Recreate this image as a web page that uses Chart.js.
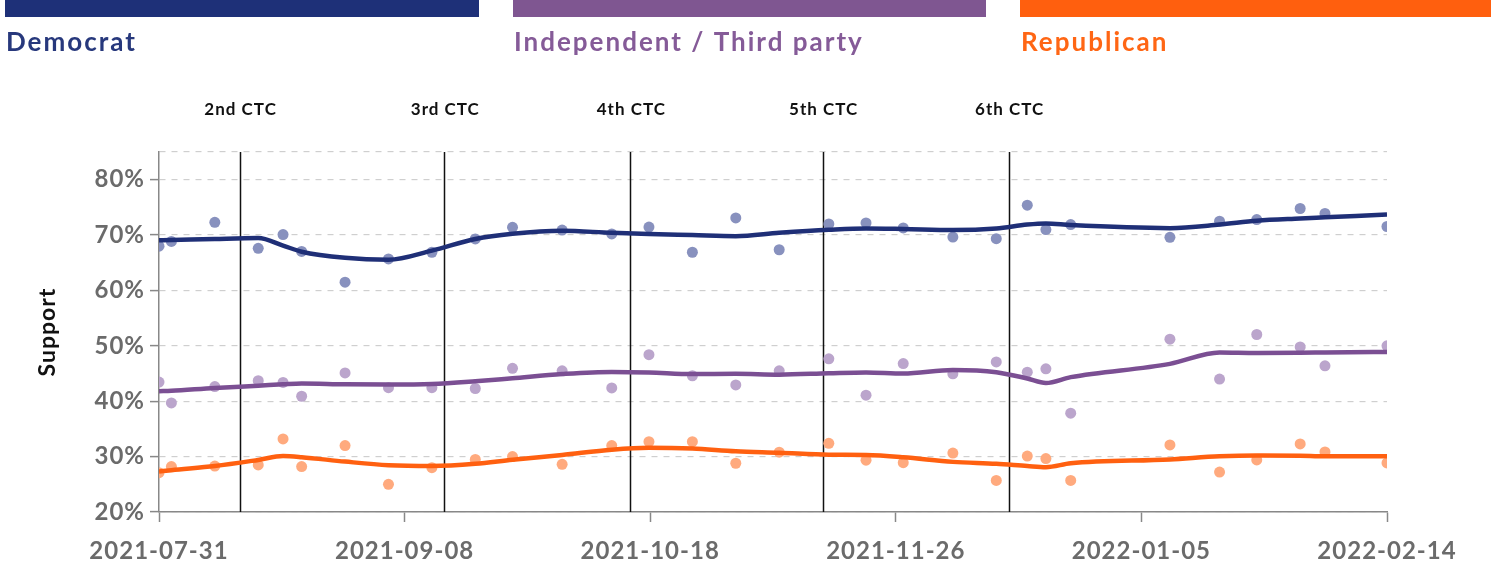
<!DOCTYPE html>
<html>
<head>
<meta charset="utf-8">
<script src="https://cdn.jsdelivr.net/npm/chart.js@4.4.1/dist/chart.umd.min.js"></script>
<style>
html, body { margin: 0; padding: 0; background: #fff; }
#wrap { position: relative; width: 1491px; height: 566px; }
</style>
</head>
<body>
<div id="wrap"><canvas id="chart"></canvas></div>
<script>
// survey dates
const surveyDates = [
    '2021-07-31', '2021-08-02', '2021-08-09', '2021-08-16', '2021-08-20', '2021-08-23',
    '2021-08-30', '2021-09-06', '2021-09-13', '2021-09-20', '2021-09-26', '2021-10-04',
    '2021-10-12', '2021-10-18', '2021-10-25', '2021-11-01', '2021-11-08', '2021-11-16',
    '2021-11-22', '2021-11-28', '2021-12-06', '2021-12-13', '2021-12-18', '2021-12-21',
    '2021-12-25', '2022-01-10', '2022-01-18', '2022-01-24', '2022-01-31', '2022-02-04',
    '2022-02-14'
];

// raw poll points
const demPoints = [68.0, 68.85, 72.3, 67.6, 70.1, 67.05, 61.5, 65.7, 66.9, 69.3, 71.4, 70.9,
    70.2, 71.45, 66.9, 73.1, 67.35, 72.0, 72.2, 71.3, 69.65, 69.35, 75.4, 71.0,
    71.9, 69.6, 72.5, 72.8, 74.8, 73.9, 71.55];
const indPoints = [43.45, 39.7, 42.65, 43.7, 43.4, 40.9, 45.1, 42.45, 42.45, 42.3, 45.95, 45.5,
    42.4, 48.4, 44.6, 42.95, 45.5, 47.65, 41.1, 46.8, 44.95, 47.1, 45.25, 45.85,
    37.85, 51.2, 44.0, 52.05, 49.8, 46.4, 50.0];
const repPoints = [27.1, 28.2, 28.3, 28.5, 33.2, 28.2, 32.0, 25.0, 28.0, 29.5, 30.0, 28.6,
    32.0, 32.7, 32.7, 28.8, 30.8, 32.4, 29.35, 28.9, 30.65, 25.7, 30.1, 29.65,
    25.7, 32.1, 27.2, 29.4, 32.3, 30.85, 28.85];

// smoothed trends
const demTrend = [69.05, 69.1, 69.3, 69.45, 68.1, 67.0, 65.9, 65.55, 67.2, 69.3, 70.25, 70.8,
    70.4, 70.2, 70.0, 69.8, 70.4, 70.95, 71.2, 71.1, 70.9, 71.2, 71.9, 72.1,
    71.8, 71.25, 71.9, 72.6, 73.0, 73.2, 73.7];
const indTrend = [41.8, 41.9, 42.4, 42.8, 43.05, 43.2, 43.05, 43.0, 43.1, 43.6, 44.15, 44.9,
    45.3, 45.2, 44.9, 44.95, 44.8, 45.05, 45.2, 45.0, 45.65, 45.25, 44.1, 43.3,
    44.35, 46.75, 48.8, 48.7, 48.75, 48.8, 48.9];
const repTrend = [27.3, 27.55, 28.3, 29.4, 30.1, 29.9, 29.1, 28.45, 28.3, 28.7, 29.45, 30.3,
    31.25, 31.6, 31.45, 30.95, 30.7, 30.35, 30.3, 29.9, 29.05, 28.7, 28.3, 28.1,
    28.8, 29.5, 30.05, 30.2, 30.15, 30.05, 30.05];

// CTC payment dates
const ctcDates = ['2021-08-13', '2021-09-15', '2021-10-15', '2021-11-15', '2021-12-15'];
const ctcLabels = ['2nd CTC', '3rd CTC', '4th CTC', '5th CTC', '6th CTC'];

// axis ticks
const xTickLabels = ['2021-07-31', '2021-09-08', '2021-10-18', '2021-11-26', '2022-01-05', '2022-02-14'];
const yTickValues = [20, 30, 40, 50, 60, 70, 80];
const yMin = 20, yMax = 85;

const legendLabels = ['Democrat', 'Independent / Third party', 'Republican'];

const FONT = 'Lato, "Open Sans", sans-serif';
const startMs = Date.UTC(2021, 6, 31);
const dayOf = s => (Date.parse(s) - startMs) / 86400000;
const xMin = dayOf(xTickLabels[0]);
const xMax = dayOf(xTickLabels[xTickLabels.length - 1]);

const toXY = vals => vals.map((v, i) => ({ x: dayOf(surveyDates[i]), y: v }));

function pointSet(vals, color) {
    return {
        data: toXY(vals),
        showLine: false,
        pointRadius: 5.5,
        pointBackgroundColor: color,
        pointBorderWidth: 0,
        order: 2
    };
}

function trendSet(vals, color) {
    return {
        data: toXY(vals),
        borderColor: color,
        borderWidth: 4.5,
        pointRadius: 0,
        cubicInterpolationMode: 'monotone',
        borderCapStyle: 'butt',
        order: 1
    };
}

// CTC markers + legend
const overlay = {
    id: 'overlay',
    beforeDraw(chart) {
        chart.ctx.letterSpacing = '1px';
    },
    beforeDatasetsDraw(chart) {
        const { ctx, chartArea, scales } = chart;
        ctx.save();
        ctx.strokeStyle = '#111';
        ctx.lineWidth = 1.5;
        ctcDates.forEach(d => {
            const x = Math.round(scales.x.getPixelForValue(dayOf(d))) + 0.5;
            ctx.beginPath();
            ctx.moveTo(x, chartArea.top);
            ctx.lineTo(x, chartArea.bottom);
            ctx.stroke();
        });
        ctx.restore();
    },
    afterDraw(chart) {
        const { ctx, scales } = chart;
        ctx.save();
        ctx.fillStyle = '#111';
        ctx.font = 'bold 17px ' + FONT;
        ctx.letterSpacing = '1px';
        ctx.textAlign = 'center';
        ctx.textBaseline = 'middle';
        ctcDates.forEach((d, i) => {
            ctx.fillText(ctcLabels[i], scales.x.getPixelForValue(dayOf(d)) + 1, 110);
        });

        const bars = [
            { x0: 5, x1: 479, bar: '#1e3078', text: '#27387c' },
            { x0: 513, x1: 986, bar: '#7f5691', text: '#855b98' },
            { x0: 1020, x1: 1491, bar: '#ff5f0e', text: '#ff6614' }
        ];
        ctx.textAlign = 'left';
        ctx.textBaseline = 'alphabetic';
        ctx.font = 'bold 26px ' + FONT;
        ctx.letterSpacing = '2px';
        bars.forEach((b, i) => {
            ctx.fillStyle = b.bar;
            ctx.fillRect(b.x0, 0, b.x1 - b.x0, 17);
            ctx.fillStyle = b.text;
            ctx.fillText(legendLabels[i], b.x0 + 1, 51);
        });
        ctx.restore();
    }
};

new Chart(document.getElementById('chart'), {
    type: 'line',
    data: {
        datasets: [
            trendSet(demTrend, '#1f2f77'),
            trendSet(indTrend, '#7b4f93'),
            trendSet(repTrend, '#ff6010'),
            pointSet(demPoints, '#8891be'),
            pointSet(indPoints, '#bba5cc'),
            pointSet(repPoints, '#ffaa7e')
        ]
    },
    options: {
        responsive: true,
        maintainAspectRatio: false,
        animation: false,
        layout: { padding: { top: 152, right: 104, left: 0, bottom: 0 } },
        plugins: { legend: { display: false }, tooltip: { enabled: false } },
        scales: {
            x: {
                type: 'linear',
                min: xMin,
                max: xMax,
                afterBuildTicks: axis => {
                    const step = (xMax - xMin) / (xTickLabels.length - 1);
                    axis.ticks = xTickLabels.map((_, i) => ({ value: xMin + i * step }));
                },
                afterFit: axis => { axis.height = 54; },
                grid: { drawOnChartArea: false, tickLength: 10, tickColor: '#888', tickWidth: 1.5 },
                border: { color: '#888', width: 1.5 },
                ticks: {
                    padding: 15,
                    maxRotation: 0,
                    autoSkip: false,
                    color: '#6b6b6b',
                    font: { family: FONT, size: 24, weight: 'bold' },
                    callback: (v, i) => xTickLabels[i]
                }
            },
            y: {
                min: yMin,
                max: yMax,
                afterBuildTicks: axis => {
                    axis.ticks = yTickValues.concat([yMax]).map(v => ({ value: v }));
                },
                afterFit: axis => { axis.width = 159; },
                grid: {
                    color: '#cfcfcf',
                    lineWidth: 1.2,
                    tickLength: 9,
                    tickWidth: 1.5,
                    tickColor: c => (c.tick && c.tick.value === yMax) ? 'rgba(0,0,0,0)' : '#888'
                },
                border: { color: '#888', width: 1.5, dash: [6, 6] },
                ticks: {
                    padding: 5,
                    color: '#6b6b6b',
                    font: { family: FONT, size: 24, weight: 'bold' },
                    callback: v => v === yMax ? '' : v + '%'
                },
                title: {
                    display: true,
                    text: 'Support',
                    color: '#111',
                    font: { family: FONT, size: 23, weight: 'bold' },
                    padding: { top: 34, bottom: 0 }
                }
            }
        }
    },
    plugins: [overlay]
});
</script>
</body>
</html>
